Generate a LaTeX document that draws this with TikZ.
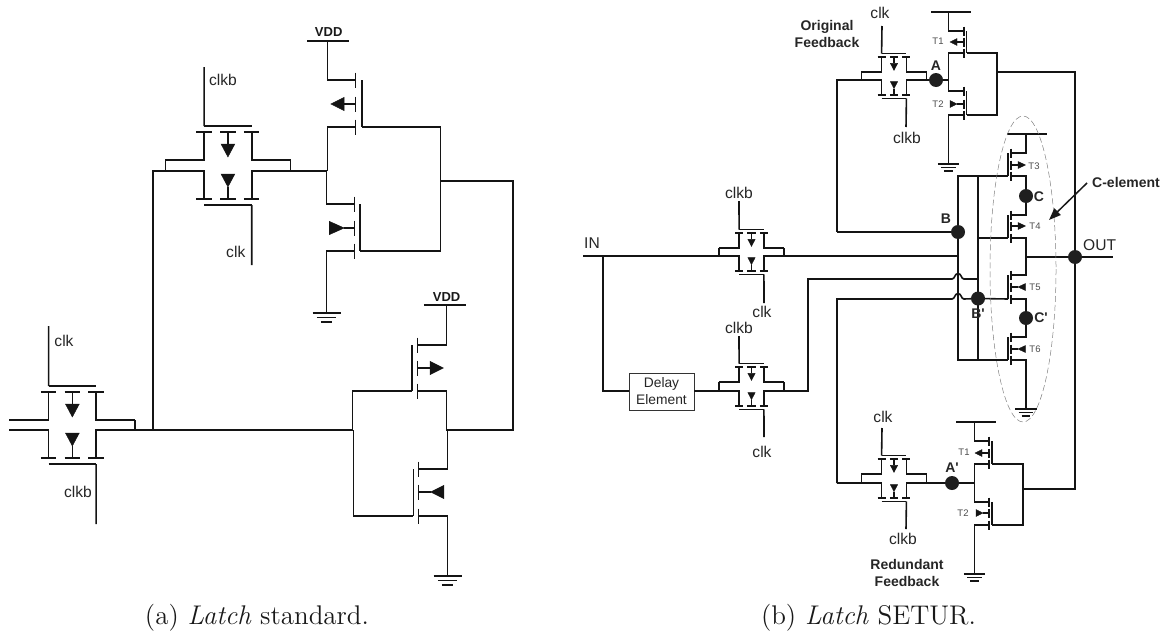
\documentclass[tikz,border=0pt]{standalone}
\usepackage{fontspec}
\newfontfamily\arialf{Liberation Sans}
\usetikzlibrary{arrows.meta}
\tikzset{
  wire/.style={line width=1.6pt, line cap=butt, line join=miter, black!92},
  tri/.style={fill=black!92, draw=black!92, line width=0.4pt, line join=miter},
  lab/.style={inner sep=0pt, font=\arialf\fontsize{15.6}{17}\selectfont, text=black!85},
  vdd/.style={inner sep=0pt, font=\arialf\bfseries\fontsize{13}{14}\selectfont, text=black!90},
  blab/.style={inner sep=0pt, align=center, font=\arialf\bfseries\fontsize{14}{17.5}\selectfont, text=black!85},
  tlab/.style={inner sep=0pt, font=\arialf\fontsize{9.5}{11}\selectfont, text=black!70},
  jdot/.style={circle, fill=black!88, draw=none, minimum size=14pt, inner sep=0pt},
  figcap/.style={inner sep=0pt, scale=2.25, font=\fontsize{12}{14}\selectfont, text=black!90},
  delaybox/.style={draw=black!80, line width=0.7pt, fill=white, minimum width=65pt, minimum height=37pt, inner sep=0pt, align=center, font=\arialf\fontsize{13.8}{17}\selectfont, text=black!85},
}
% transmission gate core: name, cx, ytop, ybot, scale
\newcommand{\tgcore}[5]{%
  \pgfmathsetmacro{\hw}{23*#5}\pgfmathsetmacro{\rr}{60.5*#5}\pgfmathsetmacro{\bh}{7.5*#5}%
  \pgfmathsetmacro{\xl}{#2-\hw}\pgfmathsetmacro{\xr}{#2+\hw}%
  \pgfmathsetmacro{\yba}{#3-28*#5}\pgfmathsetmacro{\yga}{#3-34*#5}%
  \pgfmathsetmacro{\ybb}{#4+28*#5}\pgfmathsetmacro{\ygb}{#4+34*#5}%
  \pgfmathsetmacro{\tw}{6.7*#5}%
  \coordinate (#1-gt) at (\xl,\yga);
  \coordinate (#1-gb) at (\xr,\ygb);
  \coordinate (#1-L) at ({#2-\rr},#4);
  \coordinate (#1-R) at ({#2+\rr},#4);
  \coordinate (#1-Lt) at ({#2-\rr},#3);
  \coordinate (#1-Rt) at ({#2+\rr},#3);
  \draw[wire] (\xl,\yga) -- (\xr,\yga);
  \draw[wire] (\xl,\ygb) -- (\xr,\ygb);
  \foreach \cc in {\xl,#2,\xr}{
    \draw[wire] (\cc-\bh,\yba) -- (\cc+\bh,\yba);
    \draw[wire] (\cc-\bh,\ybb) -- (\cc+\bh,\ybb);
  }
  \draw[wire] (#1-Lt) -- (\xl,#3) -- (\xl,\yba);
  \draw[wire] (#1-Rt) -- (\xr,#3) -- (\xr,\yba);
  \draw[wire] (#1-L) -- (\xl,#4) -- (\xl,\ybb);
  \draw[wire] (#1-R) -- (\xr,#4) -- (\xr,\ybb);
  \draw[wire] (#2,\yba) -- (#2,{#3-16*#5});
  \filldraw[tri] (#2-\tw,{#3-16*#5}) -- (#2+\tw,{#3-16*#5}) -- (#2,{#3-3*#5}) -- cycle;
  \draw[wire] (#2,\ybb) -- (#2,{#4+16*#5});
  \filldraw[tri] (#2-\tw,{#4+3*#5}) -- (#2+\tw,{#4+3*#5}) -- (#2,{#4+16*#5}) -- cycle;
}
\newcommand{\tg}[5]{\tgcore{#1}{#2}{#3}{#4}{#5}%
  \draw[wire] (#1-Lt) -- (#1-L); \draw[wire] (#1-Rt) -- (#1-R);}
% MOS: xbar xgate y1 ymid y3 halfbar
\newcommand{\mos}[6]{%
  \draw[wire] (#1,{#3-#6}) -- (#1,{#3+#6});
  \draw[wire] (#1,{#4-#6}) -- (#1,{#4+#6});
  \draw[wire] (#1,{#5-#6}) -- (#1,{#5+#6});
  \draw[wire] (#2,#3) -- (#2,#5);
}
% stem+triangle: xbar xstemend xbase xtip y halfwidth
\newcommand{\stri}[6]{%
  \draw[wire] (#1,#5) -- (#2,#5);
  \filldraw[tri] (#3,{#5-#6}) -- (#3,{#5+#6}) -- (#4,#5) -- cycle;
}
% ground: x y scale
\newcommand{\gnd}[3]{%
  \draw[wire] ({#1-13.5*#3},#2) -- ({#1+13.5*#3},#2);
  \draw[wire] ({#1-9.5*#3},{#2+4.5*#3}) -- ({#1+9.5*#3},{#2+4.5*#3});
  \draw[wire] ({#1-5.5*#3},{#2+9*#3}) -- ({#1+5.5*#3},{#2+9*#3});
}
\begin{document}
\begin{tikzpicture}[x=1pt,y=-1pt]
\useasboundingbox (0,0) rectangle (1169,632);
%% ---------- (a) ----------
\begin{scope}[xscale=1.0337]
% upper transmission gate
\tg{ua}{220.5}{160}{171}{1}
\draw[wire] (ua-gt) -- (197.5,67);
\draw[wire] (ua-gb) -- (243.5,265);
\node[lab,anchor=west] (ua1) at (202,80) {clkb};
\node[lab,anchor=east] (ua2) at (237.5,252) {clk};
% left transmission gate
\tgcore{la}{70}{420}{430}{1}
\draw[wire] (la-Rt) -- (la-R);
\coordinate (lainA) at (9,420);
\coordinate (lainB) at (9,430);
\draw[wire] (lainA) -- (47,420);
\draw[wire] (lainB) -- (47,430);
\draw[wire] (la-gt) -- (47,326);
\draw[wire] (la-gb) -- (93,524);
\node[lab,anchor=west] (la1) at (52.5,341) {clk};
\node[lab,anchor=east] (la2) at (89,492) {clkb};
% wires between gates and inverter
\draw[wire] (la-R) -- (93,430) -- (341.5,430);
\draw[wire] (148,430) -- (148,171) -- (ua-L);
\draw[wire] (ua-R) -- (316.5,171);
% upper inverter
\node[vdd] (v1) at (318,32.5) {VDD};
\draw[wire] (297,41) -- (338,41);
\draw[wire] (317,41) -- (317,80) -- (344,80);
\mos{344}{350}{80}{104}{127}{7.5}
\stri{344}{333}{333}{320}{104}{6.7}
\draw[wire] (344,127) -- (317,127) -- (317,171);
\draw[wire] (316,171) -- (316,204) -- (343,204);
\mos{343}{348.5}{204}{228}{251}{7.5}
\stri{343}{333}{318.5}{333}{228}{6.7}
\draw[wire] (343,251) -- (316,251) -- (316,313);
\gnd{316}{313}{1}
\draw[wire] (350,127) -- (426,127) -- (426,251) -- (348.5,251);
\draw[wire] (426,181) -- (496,181) -- (496,430) -- (432,430);
% lower inverter
\node[vdd] (v2) at (432,297) {VDD};
\draw[wire] (410,305) -- (451,305);
\draw[wire] (432,305) -- (432,345) -- (404,345);
\mos{404}{398.5}{345}{368}{391}{7.5}
\stri{404}{416}{416}{429}{368}{6.7}
\draw[wire] (404,391) -- (432,391) -- (432,431);
\draw[wire] (398.5,391) -- (341,391) -- (341,431);
\draw[wire] (342,430) -- (342,516) -- (400,516);
\mos{405}{400}{469}{492}{516}{7.5}
\stri{405}{417}{429.5}{416.5}{492}{6.7}
\draw[wire] (405,469) -- (433,469) -- (433,430);
\draw[wire] (405,516) -- (433,516) -- (433,576);
\gnd{433}{576}{1}
\end{scope}
\node[figcap] (capa) at (257,618) {(a) \textit{Latch} standard.};
%% ---------- (b) ----------
% IN row
\tg{ti}{751.5}{248}{256}{0.54}
\draw[wire] (ti-gt) -- (739,201);
\draw[wire] (ti-gb) -- (764,303);
\node[lab] (t1) at (739,193) {clkb};
\node[lab] (t2) at (762,312) {clk};
\node[lab,anchor=west] (inl) at (584,243) {IN};
\coordinate (inw) at (583,256);
\draw[wire] (inw) -- (ti-L);
% delayed row
\tg{td}{751.5}{382}{391}{0.54}
\draw[wire] (td-gt) -- (739,336);
\draw[wire] (td-gb) -- (764,437);
\node[lab] (t3) at (739,328) {clkb};
\node[lab] (t4) at (762,452) {clk};
\node[delaybox] (delay) at (661.5,391.5) {Delay\\Element};
\draw[wire] (603,256) -- (603,391) -- (629,391);
\draw[wire] (694,391) -- (td-L);
% top gate A
\tg{tf}{894}{72}{80}{0.54}
\draw[wire] (tf-gt) -- (882,26);
\draw[wire] (tf-gb) -- (906,127);
\node[lab] (t5) at (880,13) {clk};
\node[lab] (t6) at (907,138) {clkb};
\node[blab] (ofb) at (827,34) {Original\\Feedback};
\node[jdot] (A) at (936,80) {};
\node[blab] (Al) at (936,66) {A};
\draw[wire] (tf-R) -- (A);
\draw[wire] (A) -- (948,80);
\draw[wire] (tf-L) -- (837,80) -- (837,232);
% top inverter
\draw[wire] (931,12) -- (971,12);
\draw[wire] (948.5,12) -- (948.5,31) -- (964,31);
\mos{964}{966.5}{31}{42}{53}{4.5}
\stri{964}{955}{957}{950}{42}{3.5}
\node[tlab] (T1a) at (938,41.5) {T1};
\draw[wire] (964,53) -- (948.5,53) -- (948.5,91) -- (964,91);
\mos{964}{966.5}{91}{104}{115}{4.5}
\stri{964}{957}{950}{957}{104}{3.5}
\node[tlab] (T2a) at (938,104) {T2};
\draw[wire] (964,115) -- (948.5,115) -- (948.5,164);
\gnd{948.5}{164}{0.78}
\draw[wire] (966.5,53) -- (997,53) -- (997,115) -- (966.5,115);
\draw[wire] (997,72) -- (1075,72) -- (1075,489) -- (1023,489);
% C element columns
\draw[wire] (1008,176) -- (958,176) -- (958,360) -- (1008,360);
\draw[wire] (978,176) -- (978,360);
\node[jdot] (B) at (958,232) {};
\node[blab] (Bl) at (946,219) {B};
\draw[wire] (837,232) -- (B);
\draw[wire] (ti-R) -- (958,256);
\draw[wire] (td-R) -- (808,391) -- (808,279) -- (952,279)
  .. controls (955,279) and (954.5,273.5) .. (958,273.5)
  .. controls (961.5,273.5) and (961,279) .. (964,279) -- (978,279);
\node[jdot] (Bp) at (978,298.5) {};
\node[blab] (Bpl) at (978,313.5) {B'};
\draw[wire] (837,483) -- (837,299) -- (952,299)
  .. controls (955,299) and (954.5,293.5) .. (958,293.5)
  .. controls (961.5,293.5) and (961,299) .. (964,299) -- (Bp);
\draw[wire] (Bp) -- (1008,299);
\draw[wire] (978,238) -- (1008,238);
% C-element stack
\draw[wire] (1007,134) -- (1047,134);
\draw[wire] (1026,134) -- (1026,153) -- (1011,153);
\mos{1011}{1008}{153}{165}{176}{4.5}
\stri{1011}{1018}{1018}{1025.5}{165}{3.5}
\node[tlab] (T3) at (1034,166) {T3};
\node[jdot] (C) at (1026,196) {};
\node[blab] (Cl) at (1039,196.5) {C};
\draw[wire] (1011,176) -- (1026,176) -- (C);
\draw[wire] (C) -- (1026,215) -- (1011,215);
\mos{1011}{1008}{215}{226}{238}{4.5}
\stri{1011}{1018}{1018}{1025.5}{226}{3.5}
\node[tlab] (T4) at (1035,226) {T4};
\draw[wire] (1011,238) -- (1026,238) -- (1026,275) -- (1011,275);
\mos{1011}{1008}{275}{287}{299}{4.5}
\stri{1011}{1018}{1025.5}{1018}{287}{3.5}
\node[tlab] (T5) at (1035,287) {T5};
\node[jdot] (Cp) at (1026,318) {};
\node[blab] (Cpl) at (1041,318) {C'};
\draw[wire] (1011,299) -- (1026,299) -- (Cp);
\draw[wire] (Cp) -- (1026,337) -- (1011,337);
\mos{1011}{1008}{337}{349}{360}{4.5}
\stri{1011}{1018}{1025.5}{1018}{349}{3.5}
\node[tlab] (T6) at (1035,349) {T6};
\draw[wire] (1011,360) -- (1026,360) -- (1026,409);
\gnd{1026}{409}{0.78}
\node[jdot] (Out) at (1075,257) {};
\coordinate (oute) at (1113,257);
\draw[wire] (1026,257) -- (Out) -- (oute);
\node[lab,anchor=west] (outl) at (1083,245) {OUT};
% ellipse
\draw[black!50, line width=0.5pt, dash pattern=on 6pt off 3pt] (1023,269) ellipse [x radius=33, y radius=153];
% C-element label
\node[blab,anchor=west] (cel) at (1092,182) {C-element};
\coordinate (celtip) at (1049,220);
\draw[line width=1.5pt, black!90, -{Triangle[length=12pt,width=9pt]}] (1087,183) -- (celtip);
% lower feedback gate
\tg{tb}{894}{474}{483}{0.54}
\draw[wire] (tb-gt) -- (882,428);
\draw[wire] (tb-gb) -- (906,529);
\node[lab] (t7) at (883,417) {clk};
\node[lab] (t8) at (903,539) {clkb};
\node[blab] (rfb) at (907,573) {Redundant\\Feedback};
\node[jdot] (Ap) at (952,483) {};
\node[blab] (Apl) at (952,468) {A'};
\draw[wire] (tb-L) -- (837,483);
\draw[wire] (tb-R) -- (Ap);
\draw[wire] (Ap) -- (974.5,483);
% lower inverter
\draw[wire] (956,422) -- (996,422);
\draw[wire] (974.5,422) -- (974.5,441) -- (989,441);
\mos{989}{992}{441}{453}{464}{4.5}
\stri{989}{982}{982}{975}{453}{3.5}
\node[tlab] (T1b) at (964,452) {T1};
\draw[wire] (989,464) -- (974.5,464) -- (974.5,502) -- (989,502);
\mos{989}{992}{502}{513}{525}{4.5}
\stri{989}{983}{976}{983}{513}{3.5}
\node[tlab] (T2b) at (963,513) {T2};
\draw[wire] (989,525) -- (974.5,525) -- (974.5,574);
\gnd{974.5}{574}{0.78}
\draw[wire] (992,464) -- (1023,464) -- (1023,525) -- (992,525);
\node[figcap] (capb) at (868.5,618) {(b) \textit{Latch} SETUR.};
\end{tikzpicture}
\end{document}
